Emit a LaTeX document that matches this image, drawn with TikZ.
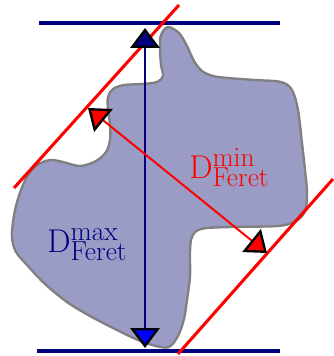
\documentclass[tikz,border=0pt]{standalone}
\usepackage{tikz}
\usetikzlibrary{arrows.meta}
\definecolor{FeretNavy}{HTML}{000080}
\definecolor{FeretBlue}{HTML}{0000FF}
\definecolor{FeretRed}{HTML}{FF0000}
\definecolor{GrainFill}{HTML}{9A9CC5}
\definecolor{GrainEdge}{HTML}{808080}
\tikzset{
  navytip/.tip={Triangle[length=17pt,width=25pt,line width=2pt,color=black,fill=FeretNavy]},
  bluetip/.tip={Triangle[length=17pt,width=25pt,line width=2pt,color=black,fill=FeretBlue]},
  redtip/.tip={Triangle[length=17pt,width=25pt,line width=2pt,color=black,fill=FeretRed]}
}

\begin{document}
\begin{tikzpicture}[x=0.03cm, y=-0.03cm,
    caliper/.style={line width=2.6pt},
    span/.style={line width=1.7pt},
    label/.style={anchor=base west, inner sep=0pt, font=\Huge, scale=1.13}]
  \useasboundingbox (0,0) rectangle (334,356);

  % grain outline
  \draw[fill=GrainFill, draw=GrainEdge, line width=2pt]
    plot[smooth cycle, tension=0.55] coordinates {
      (168,27) (179,33) (187,46) (194,61) (202,71) (213,76) (228,78)
      (255,80) (281,82) (292,90) (298,110) (302,143) (305,170) (307,193)
      (305,211) (296,221) (278,226) (230,227) (201,229) (192,237)
      (190,252) (190,276) (187,300) (184,319) (178,336) (169,347)
      (156,346) (138,340) (117,330) (90,316) (67,302) (45,284) (27,265)
      (16,252) (12,238) (13,222) (16,206) (21,190) (28,175) (37,165)
      (50,160) (63,162) (80,166) (96,161) (106,152) (110,140) (110,125)
      (108,110) (108,97) (113,89) (124,85) (142,84) (157,82) (163,76)
      (161,65) (160,48) (161,35)};

  % calipers of the maximum diameter
  \draw[FeretNavy, caliper] (39,23) -- (280,23);
  \draw[FeretNavy, caliper] (37,351) -- (280,351);

  % calipers of the minimum diameter
  \draw[FeretRed, caliper] (179,5) -- (14,188);
  \draw[FeretRed, caliper] (178,354) -- (333,179);

  % maximum diameter
  \coordinate (maxTop) at (145,28);
  \coordinate (maxBot) at (145,348);
  \draw[FeretNavy, span, {navytip}-{bluetip}] (maxTop) -- (maxBot);
  \node[FeretNavy, label] (dmax) at (47,252)
    {$\mathrm{D}^{\mathrm{max}}_{\mathrm{Feret}}$};

  % minimum diameter
  \coordinate (minTop) at (88,108);
  \coordinate (minBot) at (267,253);
  \draw[FeretRed, span, {redtip}-{redtip}] (minTop) -- (minBot);
  \node[FeretRed, label] (dmin) at (189,178)
    {$\mathrm{D}^{\mathrm{min}}_{\mathrm{Feret}}$};
\end{tikzpicture}
\end{document}
